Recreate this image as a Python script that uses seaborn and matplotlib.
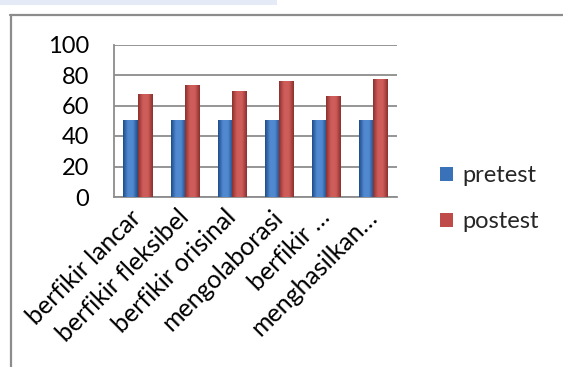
import matplotlib
matplotlib.use("Agg")
import matplotlib.pyplot as plt
from matplotlib.patches import Patch, Rectangle
from matplotlib.lines import Line2D
from matplotlib.colors import LinearSegmentedColormap
import numpy as np
import seaborn as sns
import pandas as pd

# Skor rata-rata tiap aspek berpikir kreatif
aspek = ["berfikir lancar", "berfikir fleksibel", "berfikir orisinal",
         "mengolaborasi", "berfikir \u2026", "menghasilkan\u2026"]
pretest = [50, 50, 50, 50, 50, 50]
postest = [67, 73, 69, 76, 66, 77]
seri = ["pretest", "postest"]
yticks = [0, 20, 40, 60, 80, 100]

warna = {"pretest": "#3A72BA", "postest": "#C04C49"}
# warna tepi dan tengah untuk efek batang timbul
gradasi = {"pretest": ("#1E4C8A", "#5189D0"), "postest": ("#8C302E", "#CE5D5A")}
abu = "#8C8C8C"

df = pd.DataFrame({
    "aspek": aspek * 2,
    "nilai": pretest + postest,
    "tes": [seri[0]] * len(aspek) + [seri[1]] * len(aspek),
})

sns.set_style("white")
plt.rcParams["font.family"] = ["Lato", "DejaVu Sans"]

W, H = 563, 367
fig = plt.figure(figsize=(W / 100, H / 100), dpi=100)
fig.patch.set_facecolor("white")

# pita tipis di atas bingkai dan bingkai bagan
fig.patches.append(Rectangle((0, 1 - 5 / H), 277 / W, 5 / H, transform=fig.transFigure,
                             facecolor="#E4EAF6", edgecolor="none", zorder=0))
fig.add_artist(Line2D([10.5 / W, 10.5 / W], [0, 1 - 14.5 / H], transform=fig.transFigure,
                      color=abu, lw=1.6))
fig.add_artist(Line2D([10 / W, 1], [1 - 14.5 / H, 1 - 14.5 / H], transform=fig.transFigure,
                      color=abu, lw=1.6))

x0, x1, y0, y1 = 114, 397, 197, 44.5
ax = fig.add_axes([x0 / W, 1 - y0 / H, (x1 - x0) / W, (y0 - y1) / H])
ax.set_facecolor("white")

sns.barplot(data=df, x="aspek", y="nilai", hue="tes", order=aspek, hue_order=seri,
            palette=warna, saturation=1, width=0.6, gap=0, ax=ax, legend=False,
            edgecolor="none", linewidth=0, zorder=3)

# isi tiap batang dengan gradasi horizontal (gelap di tepi, terang di tengah)
garis = np.linspace(0, 1, 64)[None, :]
for wadah, s in zip(ax.containers, seri):
    tepi, tengah = gradasi[s]
    cmap = LinearSegmentedColormap.from_list(s, [tepi, tengah, tengah, tepi], N=64)
    for p in wadah.patches:
        bx, bw, bh = p.get_x(), p.get_width(), p.get_height()
        ax.imshow(garis, cmap=cmap, extent=[bx, bx + bw, 0, bh], aspect="auto",
                  interpolation="bilinear", zorder=3.5)

ax.set_xlim(-0.5, len(aspek) - 0.5)
ax.set_ylim(0, 100)
ax.set_aspect("auto")
ax.set_yticks(yticks)
ax.set_xlabel("")
ax.set_ylabel("")
ax.grid(axis="y", color=abu, lw=1.3, zorder=0)
ax.set_axisbelow(True)

for s in ["top", "right"]:
    ax.spines[s].set_visible(False)
for s in ["left", "bottom"]:
    ax.spines[s].set_color(abu)
    ax.spines[s].set_linewidth(1.3)

# tanda kategori di batas antar kelompok
ax.set_xticks([i - 0.5 for i in range(len(aspek) + 1)], minor=True)
ax.tick_params(axis="x", which="minor", length=6, width=1.3, color=abu, direction="out")
ax.tick_params(axis="x", which="major", length=0, pad=12)
ax.tick_params(axis="y", length=6, width=1.3, color=abu, pad=12, labelsize=17, labelcolor="black")
ax.set_xticks(range(len(aspek)))
ax.set_xticklabels(aspek, rotation=45, ha="right", va="center", rotation_mode="anchor",
                   fontsize=18, color="black")

handles = [Patch(facecolor=warna[s], edgecolor="none") for s in seri]
fig.legend(handles, seri, loc="upper left", bbox_to_anchor=(440 / W, 1 - 165 / H),
           frameon=False, fontsize=17, handlelength=0.55, handleheight=0.55,
           handletextpad=0.4, labelspacing=1.08, borderpad=0, borderaxespad=0)

fig.savefig("out.png", dpi=100, facecolor="white")
